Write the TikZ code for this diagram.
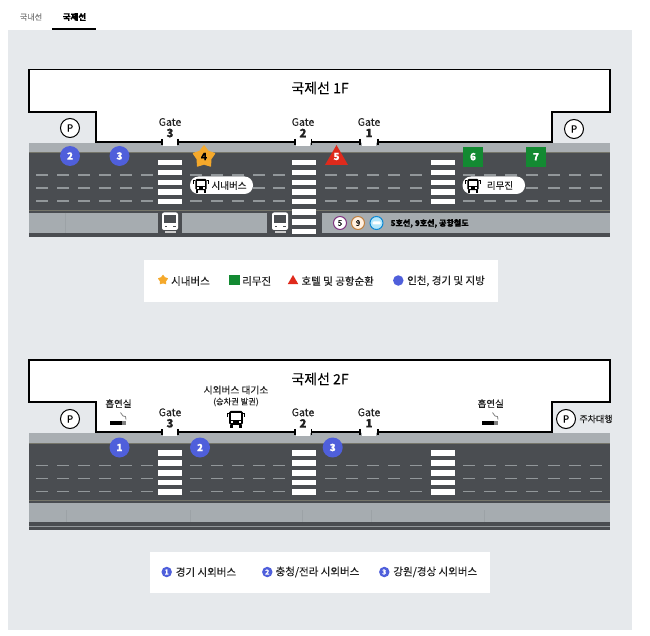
\documentclass[tikz,border=0pt]{standalone}
\usepackage{fontspec}
\usepackage{xcolor}
\setmainfont{Noto Sans CJK KR}[FakeBold=0.15]
\usetikzlibrary{shapes.geometric}

\definecolor{panelgray}{HTML}{E6E9EC}
\definecolor{roaddark}{HTML}{4A4D51}
\definecolor{walkgray}{HTML}{A9AEB2}
\definecolor{lowgray}{HTML}{A6ACB0}
\definecolor{dashgray}{HTML}{92979A}
\definecolor{seamgray}{HTML}{9CA2A6}
\definecolor{edgeolive}{HTML}{75756A}
\definecolor{stopblue}{HTML}{4F5FDB}
\definecolor{stoporange}{HTML}{F5A92B}
\definecolor{stopred}{HTML}{DF2A1C}
\definecolor{stopgreen}{HTML}{138A32}
\definecolor{inkgray}{HTML}{222222}

\newcommand{\px}[1]{\fontsize{#1}{#1}\selectfont}

\tikzset{
    wall/.style={line width=1.8pt, black},
    walltick/.style={line width=1.2pt, black},
    zebra/.style={fill=white},
    lanedash/.style={line width=1.1pt, dashgray},
    legendbox/.style={fill=white},
    txt/.style={inner sep=0pt, text=inkgray},
    stopdisc/.style={circle, fill=stopblue, text=white, inner sep=0pt, minimum size=20pt, font=\bfseries\px{10}},
    stopsquare/.style={rectangle, fill=stopgreen, text=white, inner sep=0pt, minimum size=20pt, font=\bfseries\px{10}},
    stopstar/.style={star, star points=5, star point ratio=1.6, fill=stoporange, draw=stoporange, line width=1.5pt, line join=round, inner sep=0pt, minimum size=22pt},
    stoptri/.style={regular polygon, regular polygon sides=3, fill=stopred, inner sep=0pt, minimum size=26.5pt},
    parking/.style={circle, draw=black, line width=1pt, fill=white, inner sep=0pt, minimum size=19pt, font=\px{10}},
    pill/.style={rounded corners=8.5pt, fill=white},
    linedisc/.style={circle, line width=1pt, fill=white, inner sep=0pt, minimum size=13pt, font=\px{8}},
    busicon/.pic={
        \fill[black, rounded corners=1.5pt] (-6,-7) rectangle (6,5);
        \fill[white] (-4.5,-5) rectangle (4.5,0.5);
        \fill[white] (-4.2,2) rectangle (-2.6,3.5);
        \fill[white] (2.6,2) rectangle (4.2,3.5);
        \fill[black] (-5.5,5) rectangle (-2.8,7.5);
        \fill[black] (2.8,5) rectangle (5.5,7.5);
        \draw[black, line width=1pt] (-6,-5) -- (-7.5,-5) -- (-7.5,-2);
        \draw[black, line width=1pt] (6,-5) -- (7.5,-5) -- (7.5,-2);
    },
    shelterbus/.pic={
        \fill[white, rounded corners=2pt] (-8,-9.5) rectangle (8,8);
        \fill[roaddark] (-6,-6.5) rectangle (6,1);
        \fill[roaddark] (-5.5,4) rectangle (-3,5.2);
        \fill[roaddark] (3,4) rectangle (5.5,5.2);
        \fill[white!80!black] (-5.5,9.2) rectangle (5.5,10.8);
    },
    smokeicon/.pic={
        \fill[black] (-9,-2) rectangle (3,2);
        \fill[gray] (3,-2) rectangle (7,2);
        \draw[gray, line width=0.8pt] (1.5,-10) -- (4,-6.5) -- (6.5,-6) -- (7,-3);
    },
    % road, wall and gates shared by both floors
    floorplan/.pic={
        \fill[white] (29,69.5) -- (610,69.5) -- (610,112) -- (552,112) -- (552,142) -- (96,142) -- (96,112) -- (29,112) -- cycle;
        \fill[walkgray] (29,143) rectangle (610,153);
        \fill[roaddark] (29,153) rectangle (610,213);
        \draw[edgeolive, line width=0.6pt] (29,152.8) -- (610,152.8);
        \draw[edgeolive, line width=0.6pt] (29,210.3) -- (610,210.3);
        \draw[wall] (162,142) -- (96,142) -- (96,112) -- (29,112) -- (29,69.5) -- (610,69.5) -- (610,112) -- (552,112) -- (552,142) -- (378,142);
        \draw[wall] (178,142) -- (295,142);
        \draw[wall] (311.5,142) -- (360,142);
        \foreach \gx in {162,178,295,311.5,360,378}
            \draw[walltick] (\gx,139) -- (\gx,145);
        \foreach \gx in {170,303,369}
            \fill[white] (\gx-7,141) rectangle (\gx+7,146);
        \foreach \dy in {175,188,201} {
            \foreach \dx in {36,57,78,99,120,141,190,211,232,253,273,325,346,367,388,410,463,484,505,526,548,569,590}
                \draw[lanedash] (\dx,\dy) -- ++(12,0);
        }
        \foreach \zx in {158,292,431} {
            \foreach \zy in {160,170,180,189.5,199}
                \fill[zebra] (\zx,\zy) rectangle ++(24,5.5);
        }
        \node[txt, font=\px{10.5}] (gatethree) at (170,122) {Gate};
        \node[txt, font=\bfseries\px{11.5}] (numthree) at (170,133) {3};
        \node[txt, font=\px{10.5}] (gatetwo) at (303,122) {Gate};
        \node[txt, font=\bfseries\px{11.5}] (numtwo) at (303,133) {2};
        \node[txt, font=\px{10.5}] (gateone) at (369,122) {Gate};
        \node[txt, font=\bfseries\px{11.5}] (numone) at (369,133) {1};
    }
}

\begin{document}
\begin{tikzpicture}[x=1pt, y=-1pt]
\useasboundingbox (0,0) rectangle (650,636);
\fill[white] (0,0) rectangle (650,636);

% tabs
\node[txt, text=gray, font=\px{8}] (tabdomestic) at (31,17) {국내선};
\node[txt, text=black, font=\bfseries\px{8.5}] (tabinter) at (74.5,17) {국제선};
\fill[black] (52,28) rectangle (96,30);
\fill[panelgray] (8,30) rectangle (631.5,630);

% 1F
\pic (upper) at (0,0) {floorplan};
\node[txt, text=black, font=\px{14}] (titleone) at (320,88) {국제선 1F};
\node[parking] (parkleft) at (70,128) {P};
\node[parking] (parkright) at (574,129) {P};

% 1F lower walkway
\fill[roaddark] (29,213) rectangle (610,237.5);
\fill[lowgray] (29,213) rectangle (158,233);
\fill[lowgray] (182,213) rectangle (267,233);
\fill[lowgray] (322,213) rectangle (610,233);
\draw[seamgray, line width=0.4pt] (65,213) -- (65,233);
\foreach \zy in {209.5,219.5,229}
    \fill[zebra] (292,\zy) rectangle ++(24,5.5);
\pic at (170,222) {shelterbus};
\pic at (280,222) {shelterbus};
\node[linedisc, draw=violet!60!gray] (lineFive) at (340,223) {5};
\node[linedisc, draw=orange!50!gray, fill=orange!12] (lineNine) at (358,223) {9};
\node[linedisc, draw=cyan!70!blue, fill=cyan!30] (lineAir) at (376.5,223) {};
\fill[white, rounded corners=1pt] (372.5,221.5) rectangle (380.5,224.5);
\node[txt, text=black, anchor=west, font=\bfseries\px{8}] (lineText) at (390.5,223.5) {5호선, 9호선, 공항철도};

% 1F stops
\node[stopdisc] (stoptwo) at (70,156) {2};
\node[stopdisc] (stopthree) at (119.5,156) {3};
\node[stopstar] (stopfour) at (204,157) {};
\node[txt, text=black, font=\bfseries\px{10}] (stopfourtxt) at (204,156.5) {4};
\node[stoptri] (stopfive) at (336.5,158.3) {};
\node[txt, text=white, font=\bfseries\px{10}] (stopfivetxt) at (336.5,156.5) {5};
\node[stopsquare] (stopsix) at (473,156.7) {6};
\node[stopsquare] (stopseven) at (536,156.7) {7};

% bus labels
\fill[pill] (190,176.5) rectangle (253,194);
\pic[scale=0.95] at (201,185.5) {busicon};
\node[txt, font=\px{9.5}] (citybus) at (229,185.5) {시내버스};
\fill[pill] (462.5,176.5) rectangle (525,194);
\pic[scale=0.95] at (473,185.5) {busicon};
\node[txt, font=\px{9.5}] (limobus) at (500,185.5) {리무진};

% 1F legend
\fill[legendbox] (144,260.5) rectangle (498,302);
\node[star, star points=5, star point ratio=1.6, fill=stoporange, draw=stoporange, line join=round, inner sep=0pt, minimum size=10pt] (keystar) at (163,280) {};
\node[txt, font=\px{10.5}] (keycity) at (190.5,281) {시내버스};
\node[rectangle, fill=stopgreen, inner sep=0pt, minimum size=10.5pt] (keysquare) at (234.3,280) {};
\node[txt, font=\px{10.5}] (keylimo) at (256.7,281) {리무진};
\node[regular polygon, regular polygon sides=3, fill=stopred, inner sep=0pt, minimum size=12pt] (keytri) at (293,281) {};
\node[txt, font=\px{10.5}] (keyhotel) at (337.7,281) {호텔 및 공항순환};
\node[circle, fill=stopblue, inner sep=0pt, minimum size=10.5pt] (keydisc) at (398.3,280.5) {};
\node[txt, font=\px{10.5}] (keyregion) at (446,281) {인천, 경기 및 지방};

% 2F
\pic[yshift=-290.3pt] (lower) at (0,0) {floorplan};
\node[txt, text=black, font=\px{14}] (titletwo) at (320,379) {국제선 2F};
\node[parking] (parklefttwo) at (70,419) {P};
\node[parking] (parkrighttwo) at (566,419) {P};
\node[txt, font=\px{9}] (valet) at (596,419) {주차대행};

% 2F lower walkway
\fill[lowgray] (29,503) rectangle (610,522.3);
\fill[roaddark] (29,522.3) rectangle (610,530.3);
\draw[dashgray, line width=0.5pt] (29,526.3) -- (610,526.3);
\foreach \fx in {66,190,302,371,484}
    \draw[seamgray, line width=0.3pt] (\fx,510) -- (\fx,522);

% 2F marks
\node[txt, font=\px{9.5}] (smokeleft) at (118.5,403.5) {흡연실};
\pic at (119,422.5) {smokeicon};
\node[txt, font=\px{9.5}] (smokeright) at (490.7,403.5) {흡연실};
\pic at (491,422.5) {smokeicon};
\node[txt, font=\px{9.7}] (waiting) at (236,390) {시외버스 대기소};
\node[txt, font=\px{8.3}] (ticket) at (236,402) {(승차권 발권)};
\pic[scale=1.15] at (236,419) {busicon};
\node[stopdisc] (coachone) at (119.5,447.5) {1};
\node[stopdisc] (coachtwo) at (200,447.5) {2};
\node[stopdisc] (coachthree) at (332.7,447.5) {3};

% 2F legend
\fill[legendbox] (149.5,552.3) rectangle (490,592.7);
\node[circle, fill=stopblue, text=white, inner sep=0pt, minimum size=10.5pt, font=\bfseries\px{7}] (keyone) at (166.7,572) {1};
\node[txt, font=\px{10.5}] (keygyeonggi) at (206,572) {경기 시외버스};
\node[circle, fill=stopblue, text=white, inner sep=0pt, minimum size=10.5pt, font=\bfseries\px{7}] (keytwo) at (267.3,572) {2};
\node[txt, font=\px{10.5}] (keychung) at (317.5,572) {충청/전라 시외버스};
\node[circle, fill=stopblue, text=white, inner sep=0pt, minimum size=10.5pt, font=\bfseries\px{7}] (keythree) at (384.3,572) {3};
\node[txt, font=\px{10.5}] (keygang) at (435.3,572) {강원/경상 시외버스};

\end{tikzpicture}
\end{document}
